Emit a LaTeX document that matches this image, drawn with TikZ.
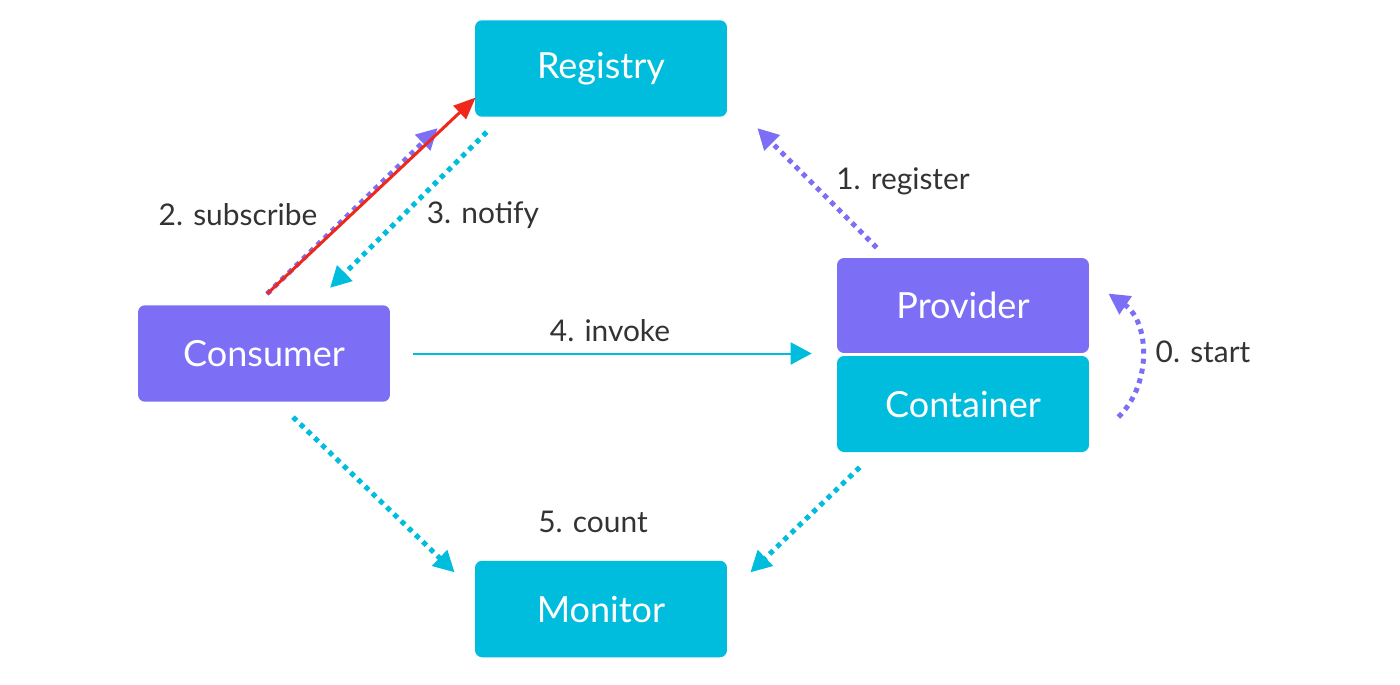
\documentclass[tikz,border=0pt]{standalone}
\usepackage{fontspec}
\setmainfont{Lato}
\usetikzlibrary{arrows.meta,positioning,calc}

\definecolor{regcyan}{RGB}{0,188,221}
\definecolor{regpurple}{RGB}{124,111,246}
\definecolor{markred}{RGB}{240,40,28}
\definecolor{labelgray}{RGB}{51,51,51}

\begin{document}
\begin{tikzpicture}[
            x=0.02cm, y=-0.02cm,
            box/.style={rectangle, rounded corners=0.14cm, minimum width=5.04cm, minimum height=1.93cm,
                        text=white, font=\fontsize{20.5}{24}\selectfont},
            cyanbox/.style={box, fill=regcyan},
            purplebox/.style={box, fill=regpurple},
            steplabel/.style={text=labelgray, font=\fontsize{17}{20}\selectfont},
            dotcyan/.style={draw=regcyan, line width=0.1cm, dash pattern=on 0.1cm off 0.1cm,
                            -{Triangle[length=0.42cm, width=0.42cm]}},
            dotpurple/.style={draw=regpurple, line width=0.1cm, dash pattern=on 0.1cm off 0.1cm,
                            -{Triangle[length=0.42cm, width=0.42cm]}}
        ]
\useasboundingbox (0,0) rectangle (1400,684);

% boxes
            \node[cyanbox] (registry) at (601,68.5) {Registry};
            \node[purplebox] (consumer) at (264,353.5) {Consumer};
            \node[purplebox, minimum height=1.9cm] (provider) at (963,305.5) {Provider};
            \node[cyanbox, minimum height=1.92cm] (container) at (963,404) {Container};
            \node[cyanbox] (monitor) at (601,609) {Monitor};

% arrows
            \draw[dotpurple] ([shift={(3,-11)}]consumer.north) -- ([shift={(-37,11)}]registry.south west);
            \draw[markred, line width=0.06cm, -{Triangle[length=0.44cm, width=0.36cm]}]
                ([shift={(3,-11)}]consumer.north) -- ([shift={(1,29)}]registry.west);
            \draw[dotcyan] ([shift={(12,15)}]registry.south west) -- ([shift={(66,-17)}]consumer.north);
            \draw[dotpurple] ([shift={(40,-10)}]provider.north west) -- ([shift={(30,11)}]registry.south east);
            \draw[regcyan, line width=0.04cm, -{Triangle[length=0.42cm, width=0.44cm]}]
                ([shift={(23,0)}]consumer.east) -- ([shift={(-25,0)}]provider.south west |- consumer.east);
            \draw[dotpurple] ([shift={(29,13)}]container.east) .. controls (1152,385) and (1150,322) .. ([shift={(19,-12)}]provider.east);
            \draw[dotcyan] ([shift={(29,15)}]consumer.south) -- ([shift={(-20,12)}]monitor.north west);
            \draw[dotcyan] ([shift={(23,15)}]container.south west) -- ([shift={(23,12)}]monitor.north east);

% labels
            \node[steplabel] (subscribe) at (238,215) {2. subscribe};
            \node[steplabel] (notify) at (483,215) {3. notify};
            \node[steplabel] (register) at (903,181) {1. register};
            \node[steplabel] (invoke) at (610,331) {4. invoke};
            \node[steplabel] (start) at (1203,352) {0. start};
            \node[steplabel] (count) at (593,522) {5. count};

        \end{tikzpicture}
\end{document}
